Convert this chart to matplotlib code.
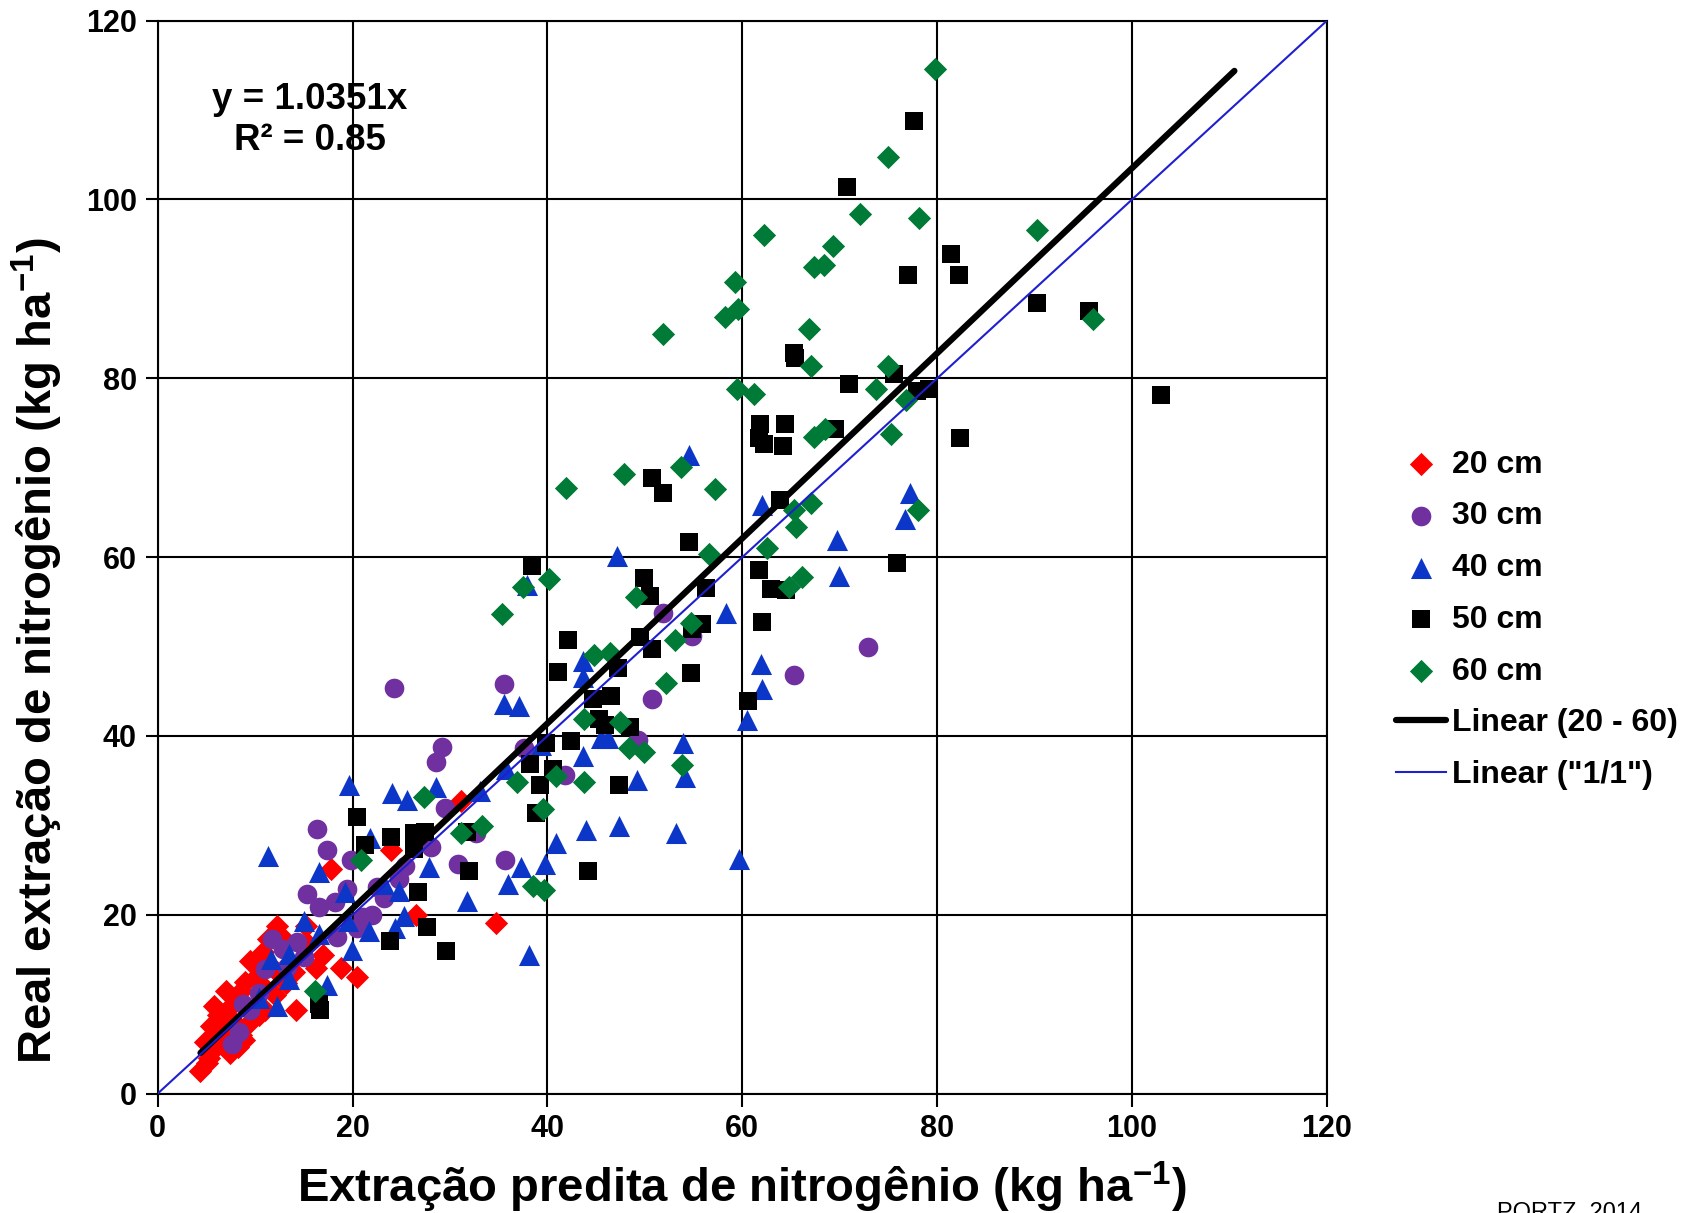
import matplotlib
matplotlib.use('Agg')
import matplotlib.pyplot as plt

plt.rcParams['font.family'] = ['Liberation Sans', 'DejaVu Sans']
plt.rcParams['font.weight'] = 'bold'
plt.rcParams['mathtext.default'] = 'regular'

# 20 cm (red diamonds)
x20 = [4.4, 5.1, 6.0, 6.6, 4.9, 5.5, 6.2, 7.1, 7.9, 7.0, 8.6, 9.5, 12.2, 11.3, 13.0,
       8.9, 9.5, 10.4, 11.0, 14.2, 16.3, 17.0, 15.4, 17.8, 18.8, 20.5, 34.7, 26.5,
       31.1, 24.0, 12.3, 10.1, 7.6, 8.2, 8.6, 11.0, 13.2, 14.0, 15.2, 5.8, 6.8, 9.0,
       10.8, 12.0, 7.4, 5.3]
y20 = [2.5, 3.4, 5.2, 6.4, 5.8, 7.6, 8.8, 9.4, 10.6, 11.5, 11.5, 14.8, 18.8, 17.3, 17.3,
       6.0, 8.0, 8.8, 9.4, 9.3, 14.0, 15.5, 16.7, 25.1, 14.0, 13.0, 19.1, 20.0,
       32.7, 27.3, 13.6, 13.0, 8.2, 5.2, 6.6, 11.8, 12.4, 13.6, 18.7, 9.8, 7.2, 12.5,
       15.8, 11.0, 4.6, 4.0]

# 30 cm (purple circles)
x30 = [72.9, 65.3, 54.8, 51.9, 50.7, 49.3, 35.5, 24.3, 29.2, 28.6, 37.6, 41.8, 35.6,
       30.8, 29.5, 32.7, 28.1, 16.4, 17.4, 15.3, 19.8, 19.4, 16.6, 18.2, 22.5, 23.2,
       21.1, 22.0, 18.4, 25.4, 11.7, 14.3, 12.9, 13.3, 10.4, 9.5, 8.4, 7.6, 11.0,
       8.8, 15.0, 20.5, 24.8]
y30 = [50.0, 46.8, 51.2, 53.7, 44.1, 39.5, 45.8, 45.4, 38.8, 37.1, 38.6, 35.6, 26.1,
       25.7, 31.9, 29.1, 27.6, 29.6, 27.2, 22.3, 26.1, 22.9, 20.9, 21.4, 23.1, 21.9,
       19.7, 20.0, 17.5, 25.5, 17.3, 17.0, 16.2, 14.2, 11.2, 9.4, 6.9, 5.6, 13.9,
       10.0, 15.3, 18.5, 24.0]

# 40 cm (blue triangles)
x40 = [54.5, 77.2, 76.7, 62.0, 69.7, 69.9, 47.1, 37.9, 58.3, 61.9, 62.0, 60.5, 35.5,
       37.1, 43.7, 43.7, 46.2, 53.9, 54.1, 43.7, 49.2, 53.2, 47.3, 44.0, 40.9, 39.8,
       37.3, 36.0, 31.7, 38.1, 59.7, 33.1, 19.6, 11.3, 24.1, 25.6, 21.8, 16.6, 19.2,
       23.2, 24.8, 24.4, 25.3, 21.7, 19.9, 17.4, 15.0, 16.6, 11.6, 13.5, 13.5, 12.3,
       10.4, 19.5, 39.3, 45.5, 35.7, 28.6, 27.9]
y40 = [71.4, 67.2, 64.3, 65.8, 61.9, 57.9, 60.1, 56.9, 53.7, 48.1, 45.3, 41.8, 43.6,
       43.3, 48.4, 46.6, 39.8, 39.2, 35.4, 37.8, 35.1, 29.2, 29.9, 29.5, 28.0, 25.7,
       25.4, 23.4, 21.5, 15.5, 26.2, 33.8, 34.5, 26.6, 33.6, 32.8, 28.6, 24.8, 22.5,
       23.5, 22.7, 18.5, 19.9, 18.2, 16.1, 12.2, 19.3, 17.9, 15.1, 12.8, 15.6, 9.8,
       10.7, 19.3, 39.0, 39.8, 36.3, 34.3, 25.4]

# 50 cm (black squares)
x50 = [77.6, 70.7, 81.4, 82.2, 77.0, 90.2, 95.6, 103.0, 65.3, 65.4, 70.9, 75.6, 79.2,
       77.9, 69.5, 61.8, 64.4, 61.7, 62.2, 64.2, 82.3, 50.7, 51.9, 63.9, 54.5, 61.7,
       75.9, 62.9, 64.5, 38.4, 49.9, 50.5, 56.3, 55.9, 54.8, 49.5, 50.7, 62.0, 42.1,
       41.1, 47.2, 54.7, 60.6, 44.7, 46.5, 45.3, 45.9, 48.5, 42.4, 39.9, 38.2, 40.6,
       39.2, 47.3, 44.2, 38.8, 31.7, 32.0, 20.5, 21.3, 23.9, 26.3, 27.4, 26.3, 26.7,
       23.8, 27.6, 29.6, 16.6, 16.7]
y50 = [108.8, 101.4, 93.9, 91.5, 91.6, 88.4, 87.5, 78.1, 82.8, 82.3, 79.4, 80.5, 78.8,
       78.6, 74.3, 74.9, 74.9, 73.3, 72.6, 72.4, 73.3, 68.8, 67.2, 66.4, 61.7, 58.6,
       59.3, 56.4, 56.3, 59.0, 57.7, 55.7, 56.5, 52.5, 52.0, 51.1, 49.7, 52.8, 50.7,
       47.2, 47.6, 47.0, 43.9, 44.1, 44.5, 41.9, 41.2, 41.0, 39.4, 39.2, 36.9, 36.3,
       34.5, 34.5, 24.9, 31.4, 29.3, 24.9, 30.9, 27.8, 28.7, 29.1, 29.3, 27.4, 22.5,
       17.1, 18.6, 15.9, 10.0, 9.3]

# 60 cm (green diamonds)
x60 = [79.8, 75.0, 72.1, 78.1, 62.2, 90.2, 69.3, 68.4, 67.4, 59.3, 59.6, 58.2, 51.9,
       66.8, 96.0, 67.1, 75.0, 59.5, 61.2, 73.7, 76.8, 68.5, 67.4, 75.3, 47.9, 53.7,
       41.9, 57.2, 67.0, 78.0, 65.3, 65.5, 56.6, 37.5, 40.2, 35.3, 49.1, 66.1, 64.8,
       53.1, 52.2, 44.8, 46.4, 54.7, 43.8, 48.4, 49.9, 53.8, 43.8, 40.9, 36.9, 39.5,
       33.3, 31.1, 27.3, 38.5, 39.6, 20.9, 16.1, 47.4, 62.5]
y60 = [114.6, 104.7, 98.4, 97.9, 96.0, 96.6, 94.8, 92.7, 92.5, 90.8, 87.8, 86.8, 84.9,
       85.5, 86.6, 81.4, 81.4, 78.8, 78.2, 78.8, 77.6, 74.3, 73.4, 73.8, 69.3, 70.1,
       67.7, 67.6, 66.0, 65.3, 65.3, 63.4, 60.4, 56.7, 57.6, 53.6, 55.5, 57.8, 56.7,
       50.7, 45.9, 49.1, 49.3, 52.6, 41.9, 38.6, 38.2, 36.8, 34.9, 35.5, 34.8, 31.8,
       29.9, 29.1, 33.2, 23.2, 22.8, 26.1, 11.5, 41.6, 61.0]

slope = 1.0351
fit_x = [4.4, 110.5]
one_x = [0, 120]

fig = plt.figure(figsize=(16.93, 12.13), dpi=100)
ax = fig.add_axes([0.0931, 0.0984, 0.6907, 0.8846])

ax.scatter(x20, y20, marker='D', s=140, color='#ff0000', linewidths=0, zorder=3, label='20 cm')
ax.scatter(x30, y30, marker='o', s=200, color='#7030a0', linewidths=0, zorder=3, label='30 cm')
ax.scatter(x40, y40, marker='^', s=230, color='#0c36c8', linewidths=0, zorder=3, label='40 cm')
ax.scatter(x50, y50, marker='s', s=150, color='#000000', linewidths=0, zorder=3, label='50 cm')
ax.scatter(x60, y60, marker='D', s=140, color='#007a37', linewidths=0, zorder=3, label='60 cm')

# trend line through the origin and the 1:1 reference line
ax.plot(fit_x, [slope * v for v in fit_x], color='black', lw=4.5,
        solid_capstyle='round', zorder=4, label='Linear (20 - 60)')
ax.plot(one_x, one_x, color='#1f1fd0', lw=1.5, zorder=4, label='Linear ("1/1")')

ax.set_xlim(0, 120)
ax.set_ylim(0, 120)
ax.set_xticks(range(0, 121, 20))
ax.set_yticks(range(0, 121, 20))
ax.tick_params(labelsize=22, length=9, width=1.5, pad=6)
ax.grid(True, color='black', lw=1.5, zorder=0)
ax.set_axisbelow(True)
for s in ax.spines.values():
    s.set_linewidth(1.5)

ax.text(15.6, 111.2, 'y = 1.0351x', ha='center', va='center', fontsize=26.5)
ax.text(15.6, 106.6, 'R² = 0.85', ha='center', va='center', fontsize=26.5)

fig.text(0.438, 0.021, 'Extração predita de nitrogênio (kg ha$^{-1}$)',
         ha='center', va='center', fontsize=34)
fig.text(0.0224, 0.464, 'Real extração de nitrogênio (kg ha$^{-1}$)',
         ha='center', va='center', rotation=90, fontsize=34)

ax.legend(loc='center left', bbox_to_anchor=(0.8245, 0.489),
          bbox_transform=fig.transFigure, frameon=False, fontsize=23,
          handlelength=1.57, handletextpad=0.2, labelspacing=0.68,
          borderpad=0, borderaxespad=0)

fig.text(0.927, -0.005, 'PORTZ, 2014', ha='center', va='baseline',
         fontsize=17, fontweight='normal')

fig.savefig('out.png', dpi=100)
